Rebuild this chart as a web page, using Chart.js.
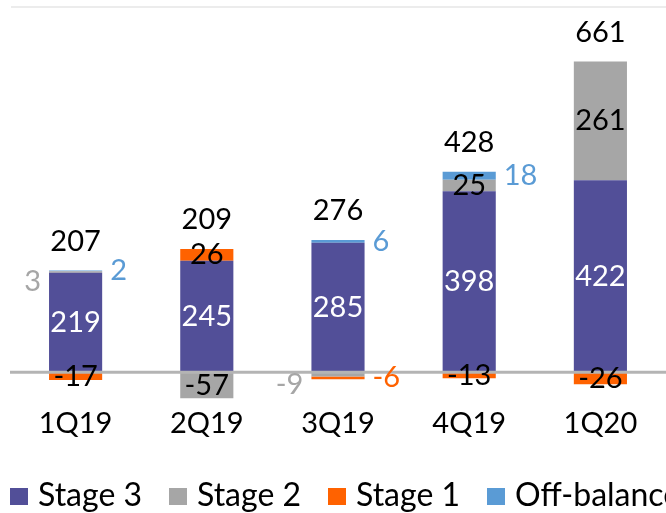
<!DOCTYPE html>
<html>
<head>
<meta charset="utf-8">
<script src="https://cdn.jsdelivr.net/npm/chart.js@4.4.0/dist/chart.umd.min.js"></script>
<style>
  html, body { margin: 0; padding: 0; background: #fff; overflow: hidden; }
  #wrap { width: 666px; height: 513px; position: relative; }
</style>
</head>
<body>
<div id="wrap"><canvas id="myChart"></canvas></div>
<script>
// data
var quarters = ['1Q19', '2Q19', '3Q19', '4Q19', '1Q20'];
var stage3 = [219, 245, 285, 398, 422];
var stage2 = [3, -57, -9, 25, 261];
var stage1 = [-17, 26, -6, -13, -26];
var offBalance = [2, 0, 6, 18, 0];
var totals = [207, 209, 276, 428, 661];

// where each value label goes: centre of the segment, or beside the bar
var stage3Place = ['center', 'center', 'center', 'center', 'center'];
var stage2Place = ['left', 'center', 'left', 'center', 'center'];
var stage1Place = ['center', 'center', 'right', 'center', 'center'];
var offPlace = ['right', 'right', 'right', 'right', 'right'];

var FONT = '29px Lato';

var labelPlugin = {
    id: 'valueLabels',
    afterDatasetsDraw: function (chart) {
        var ctx = chart.ctx;
        var yScale = chart.scales.y;
        var area = chart.chartArea;
        ctx.save();

        // zero line on top of the bars
        var y0 = yScale.getPixelForValue(0);
        ctx.strokeStyle = '#b4b4b4';
        ctx.lineWidth = 3;
        ctx.beginPath();
        ctx.moveTo(area.left, y0);
        ctx.lineTo(area.right, y0);
        ctx.stroke();

        ctx.font = FONT;
        ctx.textBaseline = 'middle';
        chart.data.datasets.forEach(function (ds, i) {
            var meta = chart.getDatasetMeta(i);
            meta.data.forEach(function (bar, j) {
                var v = ds.data[j];
                if (!v) return;
                var place = ds.labelPlace[j];
                var cy = (bar.y + bar.base) / 2;
                var half = bar.width / 2;
                if (place === 'center') {
                    ctx.fillStyle = ds.insideColor;
                    ctx.textAlign = 'center';
                    ctx.fillText(v, bar.x, cy);
                } else if (place === 'left') {
                    ctx.fillStyle = ds.backgroundColor;
                    ctx.textAlign = 'right';
                    ctx.fillText(v, bar.x - half - 8, cy + 10);
                } else {
                    ctx.fillStyle = ds.backgroundColor;
                    ctx.textAlign = 'left';
                    ctx.fillText(v, bar.x + half + 8, cy);
                }
            });
        });

        // totals above the bars
        var meta0 = chart.getDatasetMeta(0);
        ctx.fillStyle = '#000';
        ctx.textAlign = 'center';
        totals.forEach(function (t, j) {
            var pos = 0;
            chart.data.datasets.forEach(function (ds) {
                if (ds.data[j] > 0) pos += ds.data[j];
            });
            ctx.fillText(t, meta0.data[j].x, yScale.getPixelForValue(pos) - 29);
        });
        ctx.restore();
    },
    afterDraw: function (chart) {
        var ctx = chart.ctx;
        ctx.save();
        // thin rule at the top
        ctx.strokeStyle = '#ececec';
        ctx.lineWidth = 2;
        ctx.beginPath();
        ctx.moveTo(11, 7);
        ctx.lineTo(666, 7);
        ctx.stroke();

        // legend, runs off the right edge like the original
        ctx.font = '32px Lato';
        ctx.textBaseline = 'middle';
        ctx.textAlign = 'left';
        chart.data.datasets.forEach(function (ds, i) {
            var x = 10 + i * 159;
            ctx.fillStyle = ds.backgroundColor;
            ctx.fillRect(x, 488, 18, 17);
            ctx.fillStyle = '#000';
            ctx.fillText(ds.label, x + 28, 496);
        });
        ctx.restore();
    }
};

var ctx = document.getElementById('myChart').getContext('2d');
var myChart = new Chart(ctx, {
    type: 'bar',
    data: {
        labels: quarters,
        datasets: [
            {
                label: 'Stage 3',
                data: stage3,
                backgroundColor: '#524f98',
                insideColor: '#ffffff',
                labelPlace: stage3Place
            },
            {
                label: 'Stage 2',
                data: stage2,
                backgroundColor: '#a6a6a6',
                insideColor: '#000000',
                labelPlace: stage2Place
            },
            {
                label: 'Stage 1',
                data: stage1,
                backgroundColor: '#ff6200',
                insideColor: '#000000',
                labelPlace: stage1Place
            },
            {
                label: 'Off-balance',
                data: offBalance,
                backgroundColor: '#5a9bd5',
                insideColor: '#000000',
                labelPlace: offPlace
            }
        ]
    },
    options: {
        responsive: true,
        maintainAspectRatio: false,
        animation: false,
        categoryPercentage: 1,
        barPercentage: 0.405,
        layout: {
            padding: { top: 31, left: 10, right: 0, bottom: 70 }
        },
        plugins: {
            legend: { display: false },
            tooltip: { enabled: false }
        },
        scales: {
            x: {
                stacked: true,
                grid: { display: false, drawTicks: false },
                border: { display: false },
                ticks: { color: '#000', font: { family: 'Lato', size: 29 }, padding: 2 }
            },
            y: {
                stacked: true,
                display: false,
                min: -70,
                max: 750
            }
        }
    },
    plugins: [labelPlugin]
});
</script>
</body>
</html>
